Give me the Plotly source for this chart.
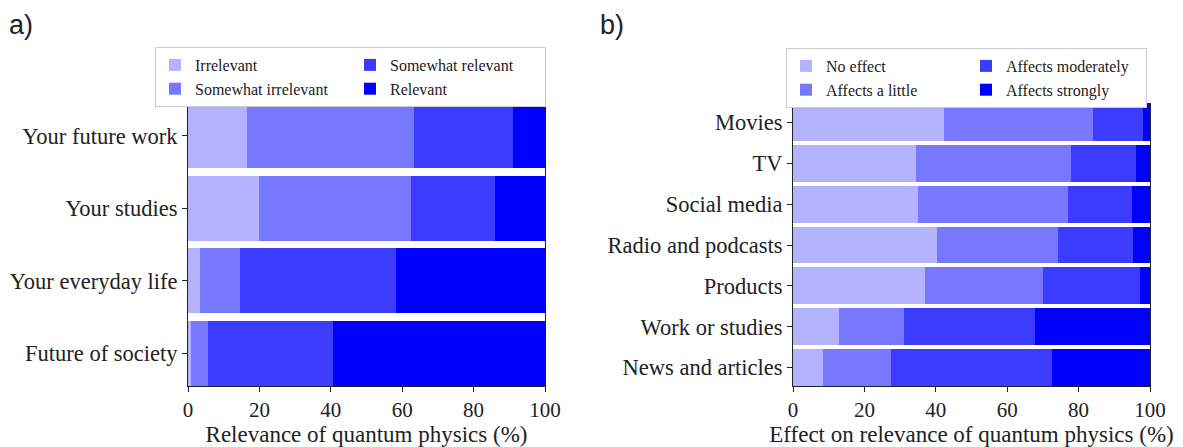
import plotly.graph_objects as go

# panel a) relevance of quantum physics
cats_a = ["Your future work", "Your studies", "Your everyday life", "Future of society"]
irrelevant = [16.6, 20.0, 3.3, 0.8]
somewhat_irrelevant = [46.6, 42.5, 11.4, 4.7]
somewhat_relevant = [27.8, 23.6, 43.7, 35.2]
relevant = [9.0, 13.9, 41.6, 59.3]

# panel b) effect on relevance
cats_b = ["Movies", "TV", "Social media", "Radio and podcasts", "Products",
          "Work or studies", "News and articles"]
no_effect = [42.2, 34.5, 35.1, 40.3, 37.1, 13.0, 8.4]
affects_little = [41.9, 43.3, 42.0, 33.8, 32.8, 18.2, 19.0]
affects_moderately = [14.0, 18.2, 17.8, 21.1, 27.2, 36.7, 45.1]
affects_strongly = [1.9, 4.0, 5.1, 4.8, 2.9, 32.1, 27.5]

colors = ["#b3b3ff", "#7878ff", "#3c3cff", "#0000ff"]
FONT = "Liberation Serif"

fig = go.Figure()

series_a = [("Irrelevant", irrelevant, "c1", 1), ("Somewhat irrelevant", somewhat_irrelevant, "c1", 2),
            ("Somewhat relevant", somewhat_relevant, "c2", 3), ("Relevant", relevant, "c2", 4)]
for (name, vals, grp, rank), col in zip(series_a, colors):
    fig.add_trace(go.Bar(y=cats_a, x=vals, name=name, orientation="h", marker_color=col,
                         marker_line_width=0, legendgroup=grp, legendrank=rank,
                         xaxis="x", yaxis="y", legend="legend"))

series_b = [("No effect", no_effect, "d1", 1), ("Affects a little", affects_little, "d1", 2),
            ("Affects moderately", affects_moderately, "d2", 3), ("Affects strongly", affects_strongly, "d2", 4)]
for (name, vals, grp, rank), col in zip(series_b, colors):
    fig.add_trace(go.Bar(y=cats_b, x=vals, name=name, orientation="h", marker_color=col,
                         marker_line_width=0, legendgroup=grp, legendrank=rank,
                         xaxis="x2", yaxis="y2", legend="legend2"))

# the page body has an 8px margin, so the figure is drawn 8px in from the window corner
OFF = 8
W, H = 1183 - OFF, 447 - OFF


def fx(px):
    return (px - OFF) / W


def fy(py):
    return 1 - (py - OFF) / H


xa = dict(range=[0, 100], tickvals=[0, 20, 40, 60, 80, 100], ticks="outside", ticklen=5,
          tickcolor="#222", showline=True, linecolor="#222", mirror=True, showgrid=False,
          zeroline=False, tickfont=dict(size=21), title_font=dict(size=23), title_standoff=2,
          automargin=False)
ya = dict(ticks="outside", ticklen=5, tickcolor="#222", showline=True, linecolor="#222",
          mirror=True, showgrid=False, tickfont=dict(size=22.5), automargin=False)
lg = dict(orientation="h", yanchor="top", xanchor="right", bordercolor="#cccccc",
          borderwidth=1, font=dict(size=16), tracegroupgap=10, itemwidth=30,
          traceorder="grouped")

fig.update_layout(
    width=W, height=H, barmode="stack", bargap=0.1,
    plot_bgcolor="white", paper_bgcolor="white",
    font=dict(family=FONT, color="#222"),
    margin=dict(l=0, r=0, t=0, b=0),
    xaxis=dict(xa, domain=[fx(188), fx(545)], anchor="y",
               title_text="Relevance of quantum physics (%)"),
    yaxis=dict(ya, domain=[fy(386), fy(103)], anchor="x",
               range=[len(cats_a) - 0.55, -0.45]),
    xaxis2=dict(xa, domain=[fx(793), fx(1150)], anchor="y2",
                title_text="Effect on relevance of quantum physics (%)"),
    yaxis2=dict(ya, domain=[fy(386), fy(104)], anchor="x2",
                range=[len(cats_b) - 0.55, -0.45]),
    legend=dict(lg, x=fx(546), y=fy(47), entrywidth=150),
    legend2=dict(lg, x=fx(1147), y=fy(48), entrywidth=135),
    annotations=[
        dict(text="a)", x=fx(7), y=1, xref="paper", yref="paper", xanchor="left",
             yanchor="top", showarrow=False, font=dict(size=27, family="Liberation Sans")),
        dict(text="b)", x=fx(598), y=1, xref="paper", yref="paper", xanchor="left",
             yanchor="top", showarrow=False, font=dict(size=27, family="Liberation Sans")),
    ],
)

fig.write_html("out.html")
